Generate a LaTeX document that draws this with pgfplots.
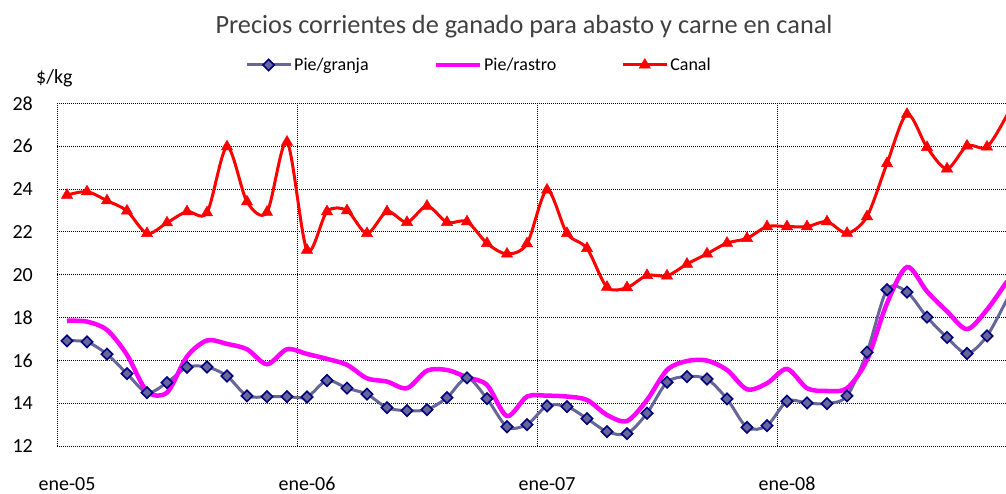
\documentclass[border=0pt]{standalone}
\usepackage{fontspec}
\setmainfont{Carlito}
\usepackage{pgfplots}
\pgfplotsset{compat=1.18}
\definecolor{granja}{HTML}{666699}
\definecolor{navyb}{HTML}{000080}
\definecolor{titlegray}{HTML}{404040}
\definecolor{magentab}{HTML}{FF00FF}
\definecolor{redb}{HTML}{FF0000}
\begin{document}
\begin{tikzpicture}[x=1pt,y=1pt]
\begin{axis}[
 name=ax, at={(0,0)}, anchor=south west,
 scale only axis, width=949pt, height=342.5pt,
 xmin=-0.5, xmax=46.95, ymin=12, ymax=28,
 xtick={0,12,24,36}, xticklabels={ene-05,ene-06,ene-07,ene-08},
 minor xtick={-0.5,11.5,23.5,35.5},
 ytick={12,14,...,28},
 ymajorgrids, xminorgrids,
 grid style={black, line width=0.9pt, dash pattern=on 1pt off 1pt},
 minor grid style={black, line width=0.9pt, dash pattern=on 1pt off 1pt},
 axis line style={draw=none},
 major tick length=0pt, minor tick length=0pt,
 tick label style={font=\fontsize{20}{24}\selectfont},
 yticklabel style={inner sep=0pt, anchor=east, xshift=-24pt},
 xticklabel style={inner sep=0pt, anchor=base, yshift=-45pt},
 /pgf/number format/assume math mode=true,
 legend columns=3,
 legend style={draw=none, fill=none, at={(0.1981,1.1124)}, anchor=west, inner sep=0pt,
   font=\fontsize{18}{22}\selectfont,
   /tikz/every even column/.append style={column sep=63pt}},
 legend image code/.code={\draw[mark repeat=2,mark phase=2,#1] plot coordinates {(0pt,0pt) (22pt,0pt) (44pt,0pt)};},
]
\addplot[granja, line width=3pt, smooth, mark=square*, mark size=4pt,
  mark options={rotate=45, draw=navyb, fill=granja, line width=1.6pt, solid}]
 coordinates {
 (0,16.91) (1,16.86) (2,16.29) (3,15.38) (4,14.49) (5,14.96) (6,15.68) (7,15.69)
 (8,15.27) (9,14.34) (10,14.31) (11,14.31) (12,14.29) (13,15.06) (14,14.70) (15,14.42)
 (16,13.79) (17,13.65) (18,13.70) (19,14.26) (20,15.18) (21,14.21) (22,12.90) (23,13.00)
 (24,13.87) (25,13.84) (26,13.28) (27,12.67) (28,12.58) (29,13.53) (30,14.98) (31,15.24)
 (32,15.13) (33,14.20) (34,12.87) (35,12.95) (36,14.09) (37,14.01) (38,13.98) (39,14.34)
 (40,16.38) (41,19.30) (42,19.19) (43,18.02) (44,17.07) (45,16.32) (46,17.14) (47,18.86)
 };
\addlegendentry{Pie/granja}
\addplot[magentab, line width=4.5pt, smooth, no marks]
 coordinates {
 (0,17.85) (1,17.81) (2,17.42) (3,16.26) (4,14.55) (5,14.50) (6,16.18) (7,16.93)
 (8,16.77) (9,16.52) (10,15.82) (11,16.52) (12,16.30) (13,16.07) (14,15.79) (15,15.16)
 (16,15.01) (17,14.70) (18,15.52) (19,15.55) (20,15.21) (21,14.85) (22,13.40) (23,14.31)
 (24,14.35) (25,14.31) (26,14.15) (27,13.45) (28,13.17) (29,14.15) (30,15.55) (31,15.97)
 (32,15.99) (33,15.55) (34,14.65) (35,14.93) (36,15.60) (37,14.70) (38,14.57) (39,14.70)
 (40,16.02) (41,18.67) (42,20.36) (43,19.22) (44,18.29) (45,17.46) (46,18.37) (47,19.69)
 };
\addlegendentry{Pie/rastro}
\addplot[redb, line width=3pt, smooth, mark=triangle*, mark size=6.5pt,
  mark options={fill=redb, draw=redb, line width=0.5pt, solid}]
 coordinates {
 (0,23.72) (1,23.88) (2,23.46) (3,22.98) (4,21.93) (5,22.43) (6,22.95) (7,22.90)
 (8,25.98) (9,23.41) (10,22.92) (11,26.20) (12,21.15) (13,22.95) (14,23.00) (15,21.93)
 (16,22.95) (17,22.45) (18,23.21) (19,22.45) (20,22.48) (21,21.47) (22,20.97) (23,21.45)
 (24,23.96) (25,21.93) (26,21.23) (27,19.42) (28,19.40) (29,19.97) (30,19.95) (31,20.50)
 (32,20.98) (33,21.48) (34,21.70) (35,22.25) (36,22.25) (37,22.25) (38,22.48) (39,21.94)
 (40,22.72) (41,25.20) (42,27.50) (43,25.95) (44,24.95) (45,26.02) (46,25.97) (47,27.46)
 };
\addlegendentry{Canal}
\end{axis}
\node[anchor=base, inner sep=0pt, font=\fontsize{26.3}{30}\selectfont, text=titlegray] at (467,412) {Precios corrientes de ganado para abasto y carne en canal};
\node[anchor=base west, inner sep=0pt, font=\fontsize{20}{24}\selectfont] at (-21,362) {\$/kg};
\pgfresetboundingbox
\path[use as bounding box] (-57,-48) rectangle (949,446);
\end{tikzpicture}
\end{document}
